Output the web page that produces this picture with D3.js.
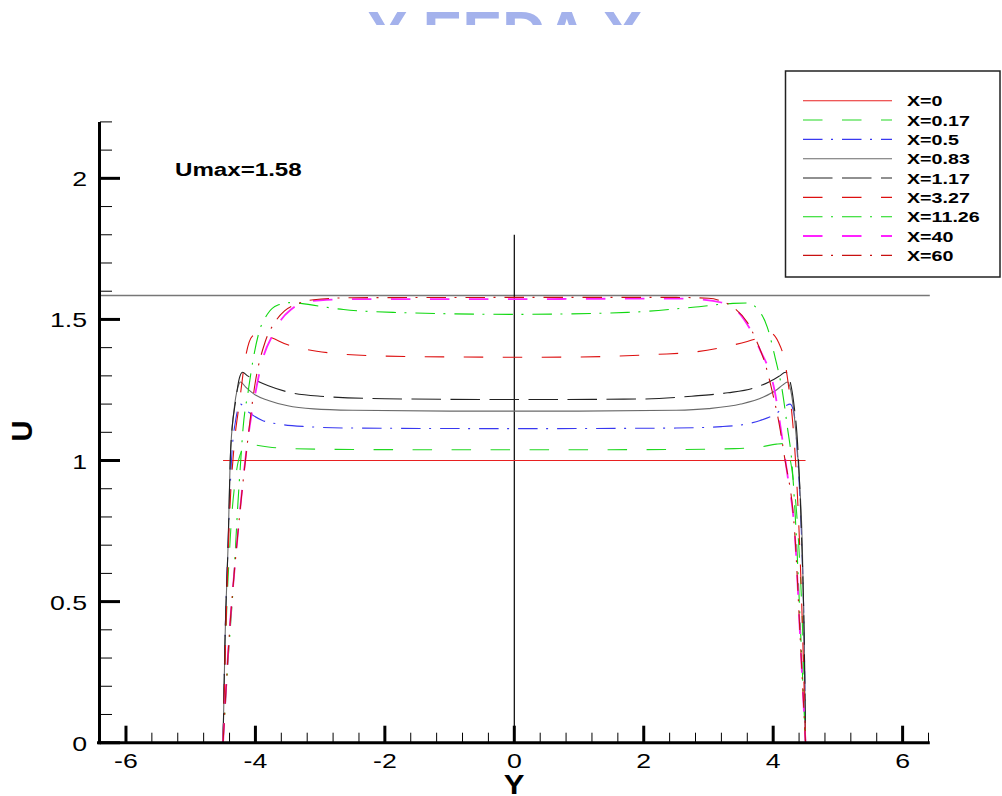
<!DOCTYPE html>
<html>
<head>
<meta charset="utf-8">
<script src="https://cdn.jsdelivr.net/npm/d3@7"></script>
<style>
  html, body { margin: 0; padding: 0; background: #fff; }
  svg { display: block; }
  text { font-family: "Liberation Sans", Arial, sans-serif; }
</style>
</head>
<body>
<svg id="chart" width="1002" height="796"></svg>
<script>
// ---------- data ----------
const seriesNames = ["X=0", "X=0.17", "X=0.5", "X=0.83", "X=1.17", "X=3.27", "X=11.26", "X=40", "X=60"];

const x0Y   = [-4.5, 4.5];
const x0U   = [1, 1];

const x017Y = [-4.5, -4.46, -4.39, -4.3, -4.2, -4.12, -4.0, -3.8, -3.4, -2.5, 0, 2.5, 3.4, 3.8, 4.05, 4.15, 4.22, 4.3, 4.39, 4.46, 4.5];
const x017U = [0, 0.36, 0.72, 0.95, 1.04, 1.06, 1.055, 1.048, 1.042, 1.039, 1.038, 1.039, 1.042, 1.048, 1.058, 1.06, 1.04, 0.95, 0.72, 0.36, 0];

const x05Y  = [-4.5, -4.47, -4.42, -4.37, -4.3, -4.23, -4.15, -4.05, -3.9, -3.6, -3.2, -2.5, 0, 2.5, 3.2, 3.6, 3.8, 4.05, 4.2, 4.26, 4.32, 4.38, 4.44, 4.48, 4.5];
const x05U  = [0, 0.36, 0.72, 1.0, 1.15, 1.2, 1.18, 1.162, 1.143, 1.128, 1.12, 1.115, 1.113, 1.115, 1.12, 1.13, 1.142, 1.167, 1.195, 1.2, 1.17, 1.0, 0.72, 0.36, 0];

const x083Y = [-4.5, -4.47, -4.42, -4.39, -4.33, -4.27, -4.23, -4.15, -4.0, -3.8, -3.5, -3.1, -2.5, -1, 0, 1, 2.5, 3.0, 3.5, 3.85, 4.05, 4.15, 4.22, 4.27, 4.33, 4.4, 4.45, 4.48, 4.5];
const x083U = [0, 0.36, 0.72, 1.0, 1.18, 1.26, 1.278, 1.26, 1.232, 1.213, 1.194, 1.183, 1.178, 1.175, 1.175, 1.175, 1.178, 1.184, 1.2, 1.225, 1.25, 1.268, 1.278, 1.25, 1.15, 0.95, 0.7, 0.36, 0];

const x117Y = [-4.5, -4.47, -4.42, -4.38, -4.3, -4.25, -4.2, -4.12, -4.0, -3.8, -3.5, -3.0, -2.0, 0, 2.0, 2.8, 3.3, 3.7, 3.95, 4.1, 4.19, 4.25, 4.32, 4.38, 4.44, 4.48, 4.5];
const x117U = [0, 0.36, 0.72, 1.05, 1.22, 1.29, 1.313, 1.3, 1.285, 1.265, 1.243, 1.228, 1.219, 1.216, 1.218, 1.229, 1.24, 1.257, 1.28, 1.3, 1.313, 1.29, 1.2, 1.05, 0.72, 0.36, 0];

const x327Y = [-4.5, -4.45, -4.4, -4.33, -4.25, -4.15, -4.05, -3.95, -3.75, -3.5, -3.2, -2.8, -2.0, -1.0, 0, 1.0, 2.2, 2.8, 3.3, 3.6, 3.85, 3.97, 4.08, 4.18, 4.24, 4.3, 4.37, 4.44, 4.5];
const x327U = [0, 0.45, 0.8, 1.05, 1.2, 1.37, 1.44, 1.45, 1.435, 1.41, 1.393, 1.38, 1.37, 1.367, 1.366, 1.367, 1.376, 1.385, 1.405, 1.422, 1.44, 1.45, 1.42, 1.35, 1.26, 1.14, 0.9, 0.5, 0];

const x1126Y = [-4.5, -4.42, -4.33, -4.27, -4.23, -4.19, -4.11, -4.03, -3.95, -3.81, -3.66, -3.41, -3.3, -2.64, -1.87, 0, 1.75, 2.76, 3.38, 3.6, 3.75, 3.91, 4.03, 4.14, 4.22, 4.29, 4.36, 4.43, 4.5];
const x1126U = [0, 0.3, 0.6, 0.85, 0.99, 1.117, 1.248, 1.365, 1.45, 1.52, 1.55, 1.56, 1.557, 1.535, 1.525, 1.518, 1.525, 1.543, 1.557, 1.558, 1.539, 1.472, 1.365, 1.248, 1.117, 0.99, 0.72, 0.36, 0];

const x40Y  = [-4.5, -4.41, -4.28, -4.12, -4.0, -3.88, -3.72, -3.6, -3.45, -3.3, -3.0, -2.5, 0, 2.5, 2.8, 3.2, 3.4, 3.55, 3.68, 3.8, 3.92, 4.02, 4.1, 4.17, 4.22, 4.34, 4.42, 4.5];
const x40U  = [0, 0.36, 0.72, 1.07, 1.24, 1.365, 1.45, 1.5, 1.535, 1.557, 1.568, 1.572, 1.572, 1.574, 1.572, 1.56, 1.54, 1.5, 1.45, 1.39, 1.33, 1.25, 1.14, 1.03, 0.95, 0.72, 0.36, 0];

const x60Y  = [-4.5, -4.41, -4.28, -4.13, -4.0, -3.85, -3.7, -3.55, -3.35, -3.1, -2.5, 0, 2.5, 3.0, 3.2, 3.4, 3.6, 3.75, 3.88, 3.98, 4.1, 4.17, 4.34, 4.42, 4.5];
const x60U  = [0, 0.36, 0.72, 1.05, 1.28, 1.42, 1.49, 1.53, 1.555, 1.57, 1.577, 1.578, 1.578, 1.575, 1.565, 1.54, 1.49, 1.42, 1.34, 1.25, 1.12, 1.02, 0.72, 0.36, 0];

const xTicksMajor = [-6, -4, -2, 0, 2, 4, 6];
const yTicksMajor = [0, 0.5, 1, 1.5, 2];
const umaxValue = 1.585;
const umaxLabel = "Umax=1.58";
const centerLineTop = 1.8;

// ---------- styles ----------
const styles = [
  { color: "#e82020", dash: null,          width: 1.1 },
  { color: "#22d822", dash: "19.5,19.5",   width: 1.1 },
  { color: "#3838f0", dash: "19.5,8.5,2,9", width: 1.1 },
  { color: "#6a6a6a", dash: null,          width: 1.1 },
  { color: "#222222", dash: "29.5,9.5",    width: 1.1 },
  { color: "#dd1010", dash: "19.5,19.5",   width: 1.1 },
  { color: "#10d810", dash: "19.5,8.5,2,9", width: 1.1 },
  { color: "#ff22ff", dash: "19.5,19.5",   width: 1.8 },
  { color: "#c81010", dash: "19.5,8.5,2,9", width: 1.1 }
];
const seriesData = [
  [x0Y, x0U], [x017Y, x017U], [x05Y, x05U], [x083Y, x083U], [x117Y, x117U],
  [x327Y, x327U], [x1126Y, x1126U], [x40Y, x40U], [x60Y, x60U]
];

// ---------- scales ----------
const svg = d3.select("#chart");
const x = d3.scaleLinear().domain([-6.42, 6.42]).range([98.8, 929.8]);
const y = d3.scaleLinear().domain([0, 2.2]).range([742.7, 121.9]);
const SX = 1.27; // horizontal text stretch

function sText(g, px, py, str, size, weight, anchor, fill, sx) {
  return g.append("text")
    .attr("transform", `translate(${px},${py}) scale(${sx || SX},1)`)
    .attr("text-anchor", anchor || "start")
    .attr("font-size", size)
    .attr("font-weight", weight || "normal")
    .attr("fill", fill || "#000")
    .text(str);
}

// watermark (clipped)
svg.append("clipPath").attr("id", "wm").append("rect").attr("x", 0).attr("y", 0).attr("width", 1002).attr("height", 25);
svg.append("text").attr("clip-path", "url(#wm)")
  .attr("x", 505).attr("y", 52).attr("text-anchor", "middle")
  .attr("font-size", 58).attr("font-weight", "bold").attr("fill", "#a4b2ec")
  .attr("textLength", 275).attr("lengthAdjust", "spacingAndGlyphs")
  .text("Y EEDA X");

// reference lines
svg.append("line")
  .attr("x1", x(-6.42)).attr("x2", x(6.42))
  .attr("y1", y(umaxValue)).attr("y2", y(umaxValue))
  .attr("stroke", "#777").attr("stroke-width", 1.5);
svg.append("line")
  .attr("x1", x(0)).attr("x2", x(0))
  .attr("y1", y(0)).attr("y2", y(centerLineTop))
  .attr("stroke", "#000").attr("stroke-width", 1.2);

// curves
const line = d3.line().x(d => x(d[0])).y(d => y(d[1])).curve(d3.curveMonotoneX);
const gCurves = svg.append("g");
seriesData.forEach((s, i) => {
  const pts = s[0].map((v, k) => [v, s[1][k]]);
  const p = gCurves.append("path")
    .attr("d", line(pts))
    .attr("fill", "none")
    .attr("stroke", styles[i].color)
    .attr("stroke-width", styles[i].width);
  if (styles[i].dash) p.attr("stroke-dasharray", styles[i].dash);
});

// axes
const gAx = svg.append("g");
gAx.append("line").attr("x1", 97).attr("x2", x(6.42)).attr("y1", y(0)).attr("y2", y(0))
  .attr("stroke", "#000").attr("stroke-width", 3);
gAx.append("line").attr("x1", 99.5).attr("x2", 99.5).attr("y1", y(2.2)).attr("y2", y(0) + 1.5)
  .attr("stroke", "#000").attr("stroke-width", 3);

// x ticks
const xMinor = d3.range(-16, 17).map(k => k * 0.4).filter(v => !xTicksMajor.some(m => Math.abs(m - v) < 1e-6));
xMinor.forEach(v => {
  gAx.append("line").attr("x1", x(v)).attr("x2", x(v)).attr("y1", y(0)).attr("y2", y(0) - 10)
    .attr("stroke", "#000").attr("stroke-width", 1);
});
xTicksMajor.forEach(v => {
  gAx.append("line").attr("x1", x(v)).attr("x2", x(v)).attr("y1", y(0)).attr("y2", y(0) - 17)
    .attr("stroke", "#000").attr("stroke-width", 3);
  sText(gAx, x(v), 768, String(v), 21, "normal", "middle");
});

// y ticks
const yMinor = d3.range(0, 23).map(k => k * 0.1).filter(v => !yTicksMajor.some(m => Math.abs(m - v) < 1e-6));
yMinor.forEach(v => {
  gAx.append("line").attr("x1", 100).attr("x2", 112).attr("y1", y(v)).attr("y2", y(v))
    .attr("stroke", "#000").attr("stroke-width", 1);
});
yTicksMajor.forEach(v => {
  gAx.append("line").attr("x1", 100).attr("x2", 120).attr("y1", y(v)).attr("y2", y(v))
    .attr("stroke", "#000").attr("stroke-width", 3);
  sText(gAx, 87, y(v) + 8, String(v), 21, "normal", "end");
});

// axis titles
svg.append("text").attr("transform", "translate(32,431) rotate(-90)")
  .attr("text-anchor", "middle").attr("font-size", 29).attr("font-weight", "bold").text("U");
sText(svg, 514, 794, "Y", 27, "bold", "middle", "#000", 1.15);

// Umax label
sText(svg, 175, 176, umaxLabel, 19, "bold", "start");

// legend
const lg = svg.append("g");
lg.append("rect").attr("x", 785.5).attr("y", 71).attr("width", 214.5).attr("height", 206)
  .attr("fill", "#fff").attr("stroke", "#222").attr("stroke-width", 1.5);
seriesNames.forEach((name, i) => {
  const ry = 100.7 + i * 19.33;
  const l = lg.append("line").attr("x1", 803).attr("x2", 892).attr("y1", ry).attr("y2", ry)
    .attr("stroke", styles[i].color).attr("stroke-width", styles[i].width);
  if (styles[i].dash) l.attr("stroke-dasharray", styles[i].dash);
  sText(lg, 907, ry + 5.5, name, 15.5, "bold", "start");
});
</script>
</body>
</html>
